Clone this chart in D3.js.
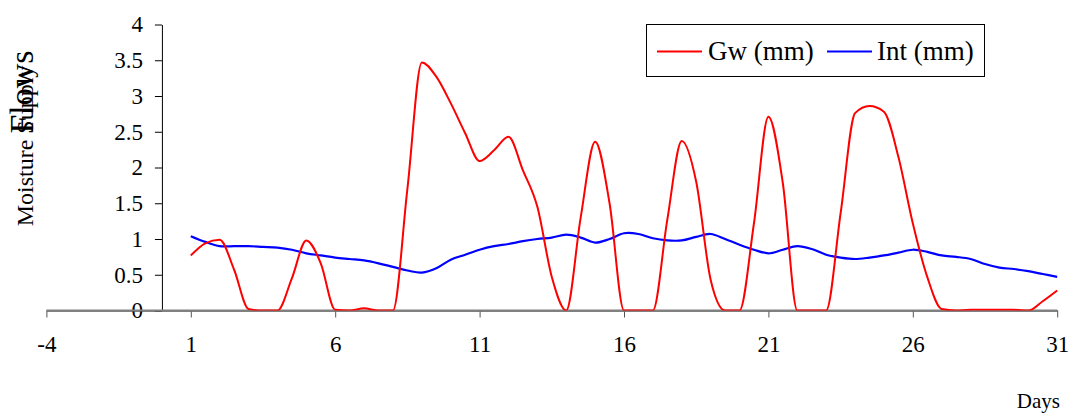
<!DOCTYPE html>
<html>
<head>
<meta charset="utf-8">
<script src="https://cdn.jsdelivr.net/npm/d3@7"></script>
<style>
  body { margin: 0; background: #fff; }
  svg { display: block; }
  text { font-family: "Liberation Serif", "Times New Roman", serif; fill: #000; }
</style>
</head>
<body>
<svg id="chart" width="1070" height="414"></svg>
<script>
// Half-day time steps over the month
const days = [
  1, 1.5, 2, 2.5, 3, 3.5, 4, 4.5, 5, 5.5, 6, 6.5, 7, 7.5, 8, 8.5, 9, 9.5, 10, 10.5,
  11, 11.5, 12, 12.5, 13, 13.5, 14, 14.5, 15, 15.5, 16, 16.5, 17, 17.5, 18, 18.5,
  19, 19.5, 20, 20.5, 21, 21.5, 22, 22.5, 23, 23.5, 24, 24.5, 25, 25.5, 26, 26.5,
  27, 27.5, 28, 28.5, 29, 29.5, 30, 30.5, 31
];

// Groundwater flow (mm)
const gwValues = [
  0.77, 0.94, 0.99, 0.57, 0.02, 0, 0, 0.45, 0.98, 0.66, 0.01, 0, 0.03, 0, 0, 1.7, 3.47, 3.27, 2.9, 2.48,
  2.09, 2.24, 2.43, 1.96, 1.45, 0.47, 0, 1.3, 2.36, 1.5, 0, 0, 0, 1.27, 2.37, 1.8,
  0.43, 0, 0, 1.22, 2.71, 1.78, 0, 0, 0, 1.36, 2.76, 2.86, 2.78, 2.15, 1.22, 0.47,
  0.02, 0, 0.01, 0.01, 0.01, 0.01, 0, 0.13, 0.28
];

// Interflow (mm)
const intValues = [
  1.04, 0.96, 0.9, 0.9, 0.9, 0.89, 0.88, 0.85, 0.8, 0.77, 0.74, 0.72, 0.7, 0.66, 0.61, 0.56, 0.53, 0.59, 0.71, 0.78,
  0.85, 0.9, 0.93, 0.97, 1.0, 1.02, 1.06, 1.02, 0.95, 1.0, 1.08, 1.07, 1.01, 0.98, 0.98, 1.03,
  1.07, 1.0, 0.92, 0.85, 0.8, 0.85, 0.9, 0.86, 0.78, 0.74, 0.72, 0.74, 0.77, 0.81, 0.85, 0.82,
  0.77, 0.75, 0.72, 0.65, 0.6, 0.58, 0.55, 0.51, 0.47
];

const xTicks = [-4, 1, 6, 11, 16, 21, 26, 31];
const yTicks = [0, 0.5, 1, 1.5, 2, 2.5, 3, 3.5, 4];
const seriesNames = ["Gw (mm)", "Int (mm)"];
const seriesColors = ["#ff0000", "#0000ff"];

const serif = "'Liberation Serif', 'Times New Roman', serif";
const svg = d3.select("#chart");

const x = d3.scaleLinear().domain([-4, 31]).range([46.4, 1057.2]);
const y = d3.scaleLinear().domain([0, 4]).range([310.5, 24.5]);

// Plot area clip (values below zero are cut at the axis)
svg.append("defs").append("clipPath").attr("id", "plot-clip")
  .append("rect")
  .attr("x", x(-4)).attr("y", y(4) - 2)
  .attr("width", x(31) - x(-4) + 2).attr("height", y(0) - y(4) + 2);

// X axis (crossing at y = 0)
const xAxis = svg.append("g")
  .attr("transform", `translate(0,${y(0)})`)
  .call(d3.axisBottom(x).tickValues(xTicks).tickSize(7).tickSizeOuter(0)
    .tickPadding(18).tickFormat(d => String(d)));
xAxis.select(".domain").attr("stroke", "#808080").attr("stroke-width", 2);
xAxis.selectAll(".tick line").attr("stroke", "#555");
xAxis.selectAll("text").style("font-family", serif).style("font-size", "23px");

// Y axis, crossing the x axis at day 0
const yAxis = svg.append("g")
  .attr("transform", `translate(${x(0)},0)`)
  .call(d3.axisLeft(y).tickValues(yTicks).tickSize(7).tickSizeOuter(0)
    .tickPadding(12).tickFormat(d => String(d)));
yAxis.select(".domain").attr("stroke", "#000").attr("stroke-width", 1);
yAxis.selectAll(".tick line").attr("stroke", "#000");
yAxis.selectAll("text").style("font-family", serif).style("font-size", "23px");

// Redraw the x axis line on top of the y-axis zero label
svg.append("line")
  .attr("x1", x(-4)).attr("x2", x(31))
  .attr("y1", y(0)).attr("y2", y(0))
  .attr("stroke", "#808080").attr("stroke-width", 2);

// Series lines
const gwLine = d3.line()
  .x((d, i) => x(days[i]))
  .y(d => y(d))
  .curve(d3.curveMonotoneX);
const intLine = d3.line()
  .x((d, i) => x(days[i]))
  .y(d => y(d))
  .curve(d3.curveCatmullRom.alpha(0));

const plot = svg.append("g").attr("clip-path", "url(#plot-clip)");
plot.append("path")
  .attr("d", intLine(intValues))
  .attr("fill", "none").attr("stroke", seriesColors[1]).attr("stroke-width", 2.2)
  .attr("stroke-linejoin", "round");
plot.append("path")
  .attr("d", gwLine(gwValues))
  .attr("fill", "none").attr("stroke", seriesColors[0]).attr("stroke-width", 2)
  .attr("stroke-linejoin", "round");

// Axis titles
svg.append("text")
  .attr("transform", "translate(33,146) rotate(-90)")
  .attr("text-anchor", "middle").style("font-size", "24px")
  .text("Moisture Supply");
svg.append("text")
  .attr("transform", "translate(33,92) rotate(-90)")
  .attr("text-anchor", "middle").style("font-size", "34px")
  .text("Flows");
svg.append("text")
  .attr("x", 1060).attr("y", 408)
  .attr("text-anchor", "end").style("font-size", "21px")
  .text("Days");

// Legend
const legend = svg.append("g");
legend.append("rect")
  .attr("x", 646.5).attr("y", 24.5).attr("width", 338).attr("height", 52)
  .attr("fill", "#fff").attr("stroke", "#000").attr("stroke-width", 1);
const legendItems = [
  { x0: 657, x1: 702, tx: 708 },
  { x0: 827, x1: 872, tx: 877 }
];
legendItems.forEach((item, i) => {
  legend.append("line")
    .attr("x1", item.x0).attr("x2", item.x1).attr("y1", 51.5).attr("y2", 51.5)
    .attr("stroke", seriesColors[i]).attr("stroke-width", 2);
  legend.append("text")
    .attr("x", item.tx).attr("y", 59.5).style("font-size", "27px")
    .text(seriesNames[i]);
});
</script>
</body>
</html>
